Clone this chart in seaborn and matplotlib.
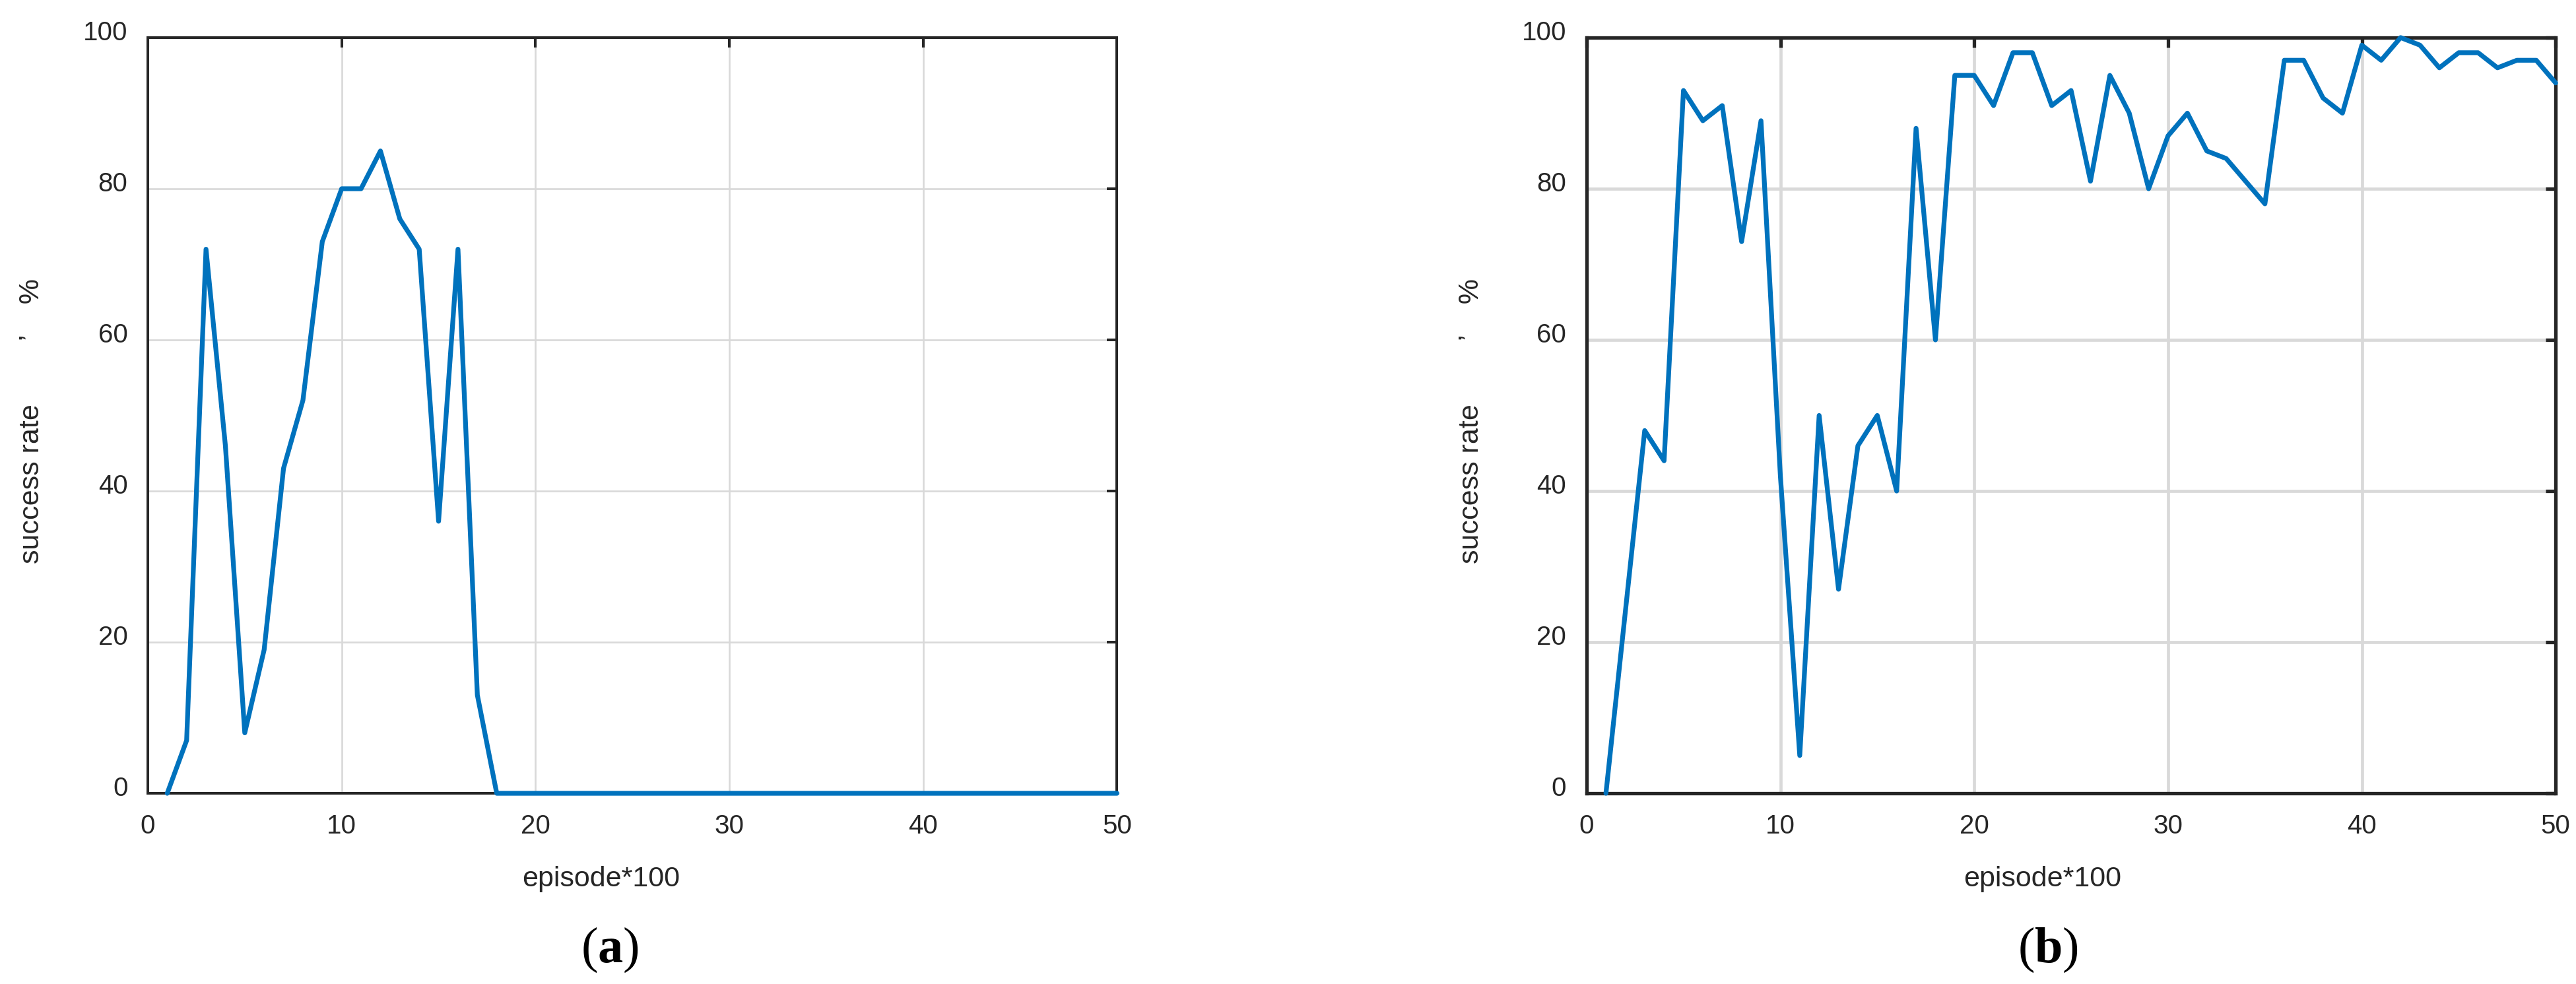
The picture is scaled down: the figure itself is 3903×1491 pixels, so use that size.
import numpy as np
import pandas as pd
import seaborn as sns
import matplotlib
matplotlib.use("Agg")
import matplotlib.pyplot as plt
import matplotlib.transforms as mtransforms

# episodes (x100)
episodes = list(range(1, 51))

# success rate, panel (a)
rate_a = [0, 7, 72, 46, 8, 19, 43, 52, 73, 80,
          80, 85, 76, 72, 36, 72, 13, 0, 0, 0,
          0, 0, 0, 0, 0, 0, 0, 0, 0, 0,
          0, 0, 0, 0, 0, 0, 0, 0, 0, 0,
          0, 0, 0, 0, 0, 0, 0, 0, 0, 0]

# success rate, panel (b)
rate_b = [0, 24, 48, 44, 93, 89, 91, 73, 89, 42,
          5, 50, 27, 46, 50, 40, 88, 60, 95, 95,
          91, 98, 98, 91, 93, 81, 95, 90, 80, 87,
          90, 85, 84, 81, 78, 97, 97, 92, 90, 99,
          97, 100, 99, 96, 98, 98, 96, 97, 97, 94]

x_ticks = [0, 10, 20, 30, 40, 50]
y_ticks = [0, 20, 40, 60, 80, 100]
captions = ["a", "b"]

sns.set_style("white")
plt.rcParams["font.family"] = ["Liberation Sans", "DejaVu Sans"]
plt.rcParams["mathtext.fontset"] = "custom"
plt.rcParams["mathtext.rm"] = "Liberation Serif"
plt.rcParams["mathtext.bf"] = "Liberation Serif:bold"

fig = plt.figure(figsize=(39.03, 14.91), dpi=100)

blue = "#0072BD"
dark = "#262626"

panels = [
    dict(data=rate_a, left=0.0574, spine=2.9, grid=1.9, cap_x=0.2367, xl_x=0.2332, yl_x=0.0123),
    dict(data=rate_b, left=0.6159, spine=3.8, grid=3.4, cap_x=0.795, xl_x=0.793, yl_x=0.571),
]

ylabel = "success rate" + " " * 8 + "\u2019" + " " * 4 + "%"
shift_up = mtransforms.ScaledTranslation(0, 11 / 100, fig.dpi_scale_trans)

for p, cap in zip(panels, captions):
    ax = fig.add_axes([p["left"], 0.1938, 0.3762, 0.768])
    df = pd.DataFrame({"episode": episodes, "rate": p["data"]})
    sns.lineplot(data=df, x="episode", y="rate", ax=ax, color=blue,
                 linewidth=5.2, clip_on=False, zorder=5)
    ax.set_xlim(0, 50)
    ax.set_ylim(0, 100)
    ax.set_xticks(x_ticks)
    ax.set_yticks(y_ticks)
    ax.set_xlabel("")
    ax.set_ylabel("")
    ax.grid(True, color="#d9d9d9", linewidth=p["grid"])
    for s in ax.spines.values():
        s.set_color(dark)
        s.set_linewidth(p["spine"])
        s.set_zorder(4)
    ax.tick_params(direction="in", length=11, width=p["spine"], color=dark,
                   top=True, right=True, labelsize=29, labelcolor=dark, pad=22)
    for lab in ax.get_yticklabels():
        lab.set_transform(lab.get_transform() + shift_up)

    fig.text(p["xl_x"], 0.1066, "episode*100", ha="center", va="center",
             fontsize=31, color=dark)
    fig.text(p["yl_x"], 0.572, ylabel, rotation=90, ha="center", va="center",
             fontsize=31, color=dark)
    fig.text(p["cap_x"], 0.035, r"($\mathbf{%s}$)" % cap, ha="center", va="center",
             fontsize=55, color="black", family="Liberation Serif")

fig.savefig("out.png", dpi=100, facecolor="white")
